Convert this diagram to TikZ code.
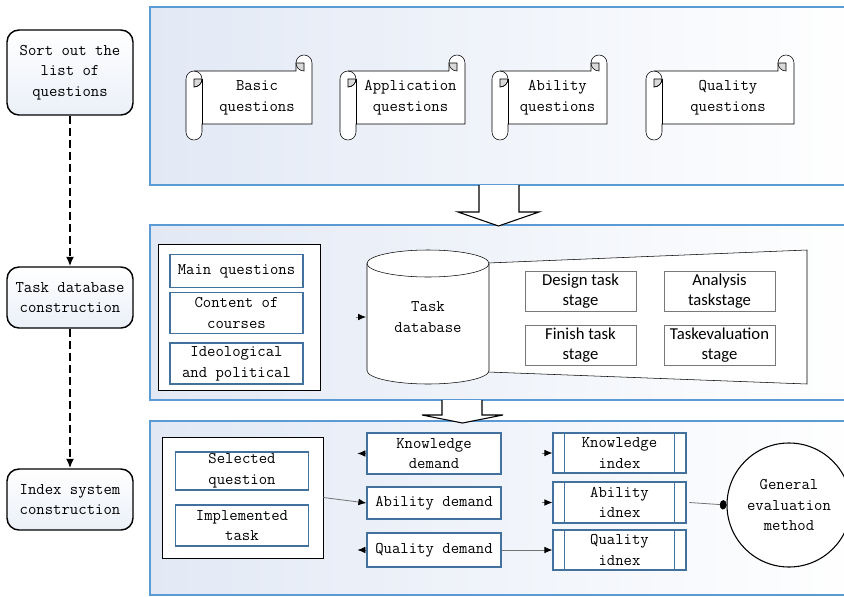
\documentclass[tikz,border=0pt]{standalone}
\usepackage{fontspec}
\newfontfamily\stagefont{Carlito}
\usetikzlibrary{arrows.meta,shadows}
\definecolor{pborder}{RGB}{91,155,213}
\definecolor{iborder}{RGB}{65,113,156}
\definecolor{pfill}{RGB}{226,233,245}
\definecolor{qgray}{RGB}{217,217,217}
\definecolor{sborder}{RGB}{120,120,120}
\newcommand{\qscroll}[6]{%
 \draw[fill=white] ({#1},{#2+24}) arc[start angle=180,end angle=270,radius=8] -- ({#3-16},{#2+16}) -- ({#3-16},{#2+8}) arc[start angle=180,end angle=360,radius=8] -- ({#3},{#4-16}) -- ({#1+16},{#4-16}) -- ({#1+16},{#4-8}) arc[start angle=0,end angle=180,radius=8] -- cycle;
 \draw ({#1+16},{#4-16}) -- ({#1+16},{#2+24});
 \filldraw[fill=qgray] ({#1+16},{#2+24}) arc[start angle=0,end angle=90,radius=8] -- ({#1+8},{#2+24}) -- cycle;
 \draw ({#1+8},{#2+16}) arc[start angle=270,end angle=450,radius=8];
 \filldraw[fill=qgray] ({#3-16},{#2+8}) arc[start angle=180,end angle=90,radius=8] -- ({#3-8},{#2+8}) -- cycle;
 \node[mono] (#5) at ({(#1+#3)/2+8},{(#2+#4)/2}) {#6};
}
\begin{document}
\begin{tikzpicture}[x=0.75pt,y=-0.75pt,
 mono/.style={font=\fontsize{12.2}{15.5}\selectfont\ttfamily,align=center,inner sep=0pt},
 panel/.style={draw=pborder,line width=0.9pt,left color=pfill,right color=white},
 flow/.style={mono,draw,line width=1.1pt,rounded corners=9pt,top color=white,bottom color=pfill!70!white,minimum width=94.5pt,minimum height=45.75pt},
 group/.style={draw,line width=0.6pt,fill=white},
 bbox/.style={mono,draw=iborder,line width=0.9pt,fill=white,minimum width=99.75pt},
 sbox/.style={draw=sborder,fill=white,font=\stagefont\fontsize{12.5}{15}\selectfont,align=center,inner sep=0pt,minimum width=83.25pt,minimum height=30pt,drop shadow={shadow xshift=0.7pt,shadow yshift=-0.7pt,opacity=0.3}},
 dasharr/.style={line width=1.5pt,dash pattern=on 6pt off 3pt,-{Latex[length=7pt,width=6pt]}},
 wire/.style={draw=black!55,line width=0.6pt,-{Latex[color=black,length=6pt,width=5pt]}},
 bigarr/.style={fill=white,line width=0.8pt}]
\useasboundingbox (0,0) rectangle (844,597);
\clip (0,0) rectangle (844,597);

\draw[panel] (150,7) rectangle (860,185);
\draw[panel] (150,225) rectangle (860,400);
\draw[panel] (150,421) rectangle (860,595);

\node[flow,minimum height=63.75pt] (sort) at (70,72.5) {Sort out the\\list of\\questions};
\node[flow] (taskc) at (70,297.5) {Task database\\construction};
\node[flow] (indexc) at (70,499.5) {Index system\\construction};
\draw[dasharr] (sort) -- (taskc);
\draw[dasharr] (taskc) -- (indexc);

\qscroll{186}{55}{312}{140}{basicq}{Basic\\questions}
\qscroll{340}{55}{465}{140}{applq}{Application\\questions}
\qscroll{492}{55}{607}{140}{abilq}{Ability\\questions}
\qscroll{646}{55}{794}{140}{qualq}{Quality\\questions}

\draw[bigarr] (479,185) -- (479,212) -- (458,212) -- (498.5,226) -- (539,212) -- (519,212) -- (519,185);

\node[group,minimum width=121.5pt,minimum height=109.5pt] (grp2) at (239,317) {};
\node[bbox,minimum height=24.75pt] (mainq) at (236.5,271) {Main questions};
\node[bbox,minimum height=30.75pt] (course) at (236.5,313) {Content of\\courses};
\node[bbox,minimum height=30.75pt] (ideo) at (236.5,363.5) {Ideological\\and political};

\draw[fill=white] (488,263) -- (807,250) -- (807,384) -- (488,372) -- cycle;
\draw[fill=white] (367,263.5) -- (367,370.5) arc[start angle=180,end angle=0,x radius=61,y radius=13.5] -- (489,263.5) arc[start angle=0,end angle=-180,x radius=61,y radius=13.5] -- cycle;
\draw (367,263.5) arc[start angle=180,end angle=0,x radius=61,y radius=13.5];
\node[mono,minimum width=91.5pt] (db) at (428,317) {Task\\database};
\draw[wire] ([xshift=-8pt]db.west) -- ([xshift=-0.5pt]db.west);

\node[sbox] (design) at (580.5,291) {Design task\\stage};
\node[sbox] (analysis) at (719.5,291) {Analysis\\taskstage};
\node[sbox] (finish) at (580.5,345) {Finish task\\stage};
\node[sbox] (taskeval) at (719.5,345) {Taskevaluation\\stage};

\draw[bigarr] (442,400) -- (442,415) -- (422,415) -- (462.5,423) -- (503,415) -- (482,415) -- (482,400);

\node[group,minimum width=120.75pt,minimum height=90.75pt] (grp3) at (242.5,497.5) {};
\node[bbox,minimum height=28.5pt] (selq) at (242,471) {Selected\\question};
\node[bbox,minimum height=30.75pt] (impl) at (242,525.5) {Implemented\\task};

\node[bbox,minimum width=100.5pt,minimum height=30.75pt] (knowdem) at (434,453.5) {Knowledge\\demand};
\node[bbox,minimum width=100.5pt,minimum height=24pt] (abildem) at (434,503) {Ability demand};
\node[bbox,minimum width=100.5pt,minimum height=25.5pt] (qualdem) at (434,550) {Quality demand};

\node[bbox,minimum height=30pt] (kidx) at (619.5,453) {Knowledge\\index};
\node[bbox,minimum height=30.75pt] (aidx) at (619.5,502.5) {Ability\\idnex};
\node[bbox,minimum height=30pt] (qidx) at (619.5,550) {Quality\\idnex};
\foreach \n in {kidx,aidx,qidx}
 \draw[draw=iborder,line width=0.9pt] ([xshift=9pt]\n.north west) -- ([xshift=9pt]\n.south west) ([xshift=-9pt]\n.north east) -- ([xshift=-9pt]\n.south east);

\node[mono,draw,circle,line width=0.8pt,fill=white,minimum size=93pt] (gen) at (789,505) {General\\evaluation\\method};

\draw[wire] (grp3.east) -- (abildem.west);
\draw[wire] (knowdem.west) -- ++(-9,0);
\draw[wire] (qualdem.west) -- ++(-9,0);
\draw[wire] (qualdem.east) -- (qidx.west);
\draw[wire] ([xshift=-8pt]kidx.west) -- (kidx.west);
\draw[wire] ([xshift=-8pt]aidx.west) -- (aidx.west);
\draw[draw=black!55,line width=0.6pt,-{Circle[color=black,length=5pt,width=7pt]}] ([xshift=2pt]aidx.east) -- (gen.west);
\end{tikzpicture}
\end{document}
